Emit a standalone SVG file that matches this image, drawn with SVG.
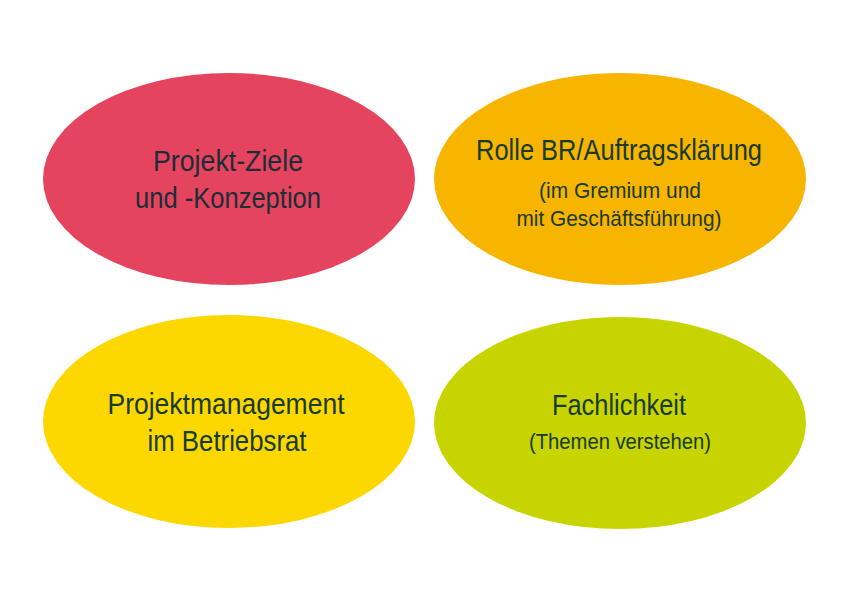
<svg xmlns="http://www.w3.org/2000/svg" width="848" height="600" viewBox="0 0 848 600">
<style>
.t{font-family:"Liberation Sans","Open Sans",sans-serif;text-anchor:middle;fill:#1b2d36}
.big{font-size:29px}
.small{font-size:22px}
.g{fill:#173a2b}
</style>
<rect width="848" height="600" fill="#ffffff"/>
<g id="node-ziele">
<ellipse cx="229" cy="179" rx="186" ry="106" fill="#E5445E"/>
<text class="t big" x="228" y="171" textLength="150" lengthAdjust="spacingAndGlyphs">Projekt-Ziele</text>
<text class="t big" x="228" y="208" textLength="186" lengthAdjust="spacingAndGlyphs">und -Konzeption</text>
</g>
<g id="node-rolle">
<ellipse cx="620" cy="179" rx="186" ry="106" fill="#F7B500"/>
<text class="t big g" x="619" y="160" textLength="286" lengthAdjust="spacingAndGlyphs">Rolle BR/Auftragsklärung</text>
<text class="t small g" x="620" y="198" textLength="162" lengthAdjust="spacingAndGlyphs">(im Gremium und</text>
<text class="t small g" x="619" y="226" textLength="205" lengthAdjust="spacingAndGlyphs">mit Geschäftsführung)</text>
</g>
<g id="node-pm">
<ellipse cx="229" cy="421.5" rx="186" ry="106.5" fill="#FCD800"/>
<text class="t big g" x="226" y="414" textLength="237" lengthAdjust="spacingAndGlyphs">Projektmanagement</text>
<text class="t big g" x="227" y="451" textLength="159" lengthAdjust="spacingAndGlyphs">im Betriebsrat</text>
</g>
<g id="node-fach">
<ellipse cx="620" cy="423" rx="186" ry="106" fill="#C8D400"/>
<text class="t big g" x="619" y="415" textLength="134" lengthAdjust="spacingAndGlyphs">Fachlichkeit</text>
<text class="t small g" x="620" y="449" textLength="182" lengthAdjust="spacingAndGlyphs">(Themen verstehen)</text>
</g>
<g id="connectors"/>
</svg>
